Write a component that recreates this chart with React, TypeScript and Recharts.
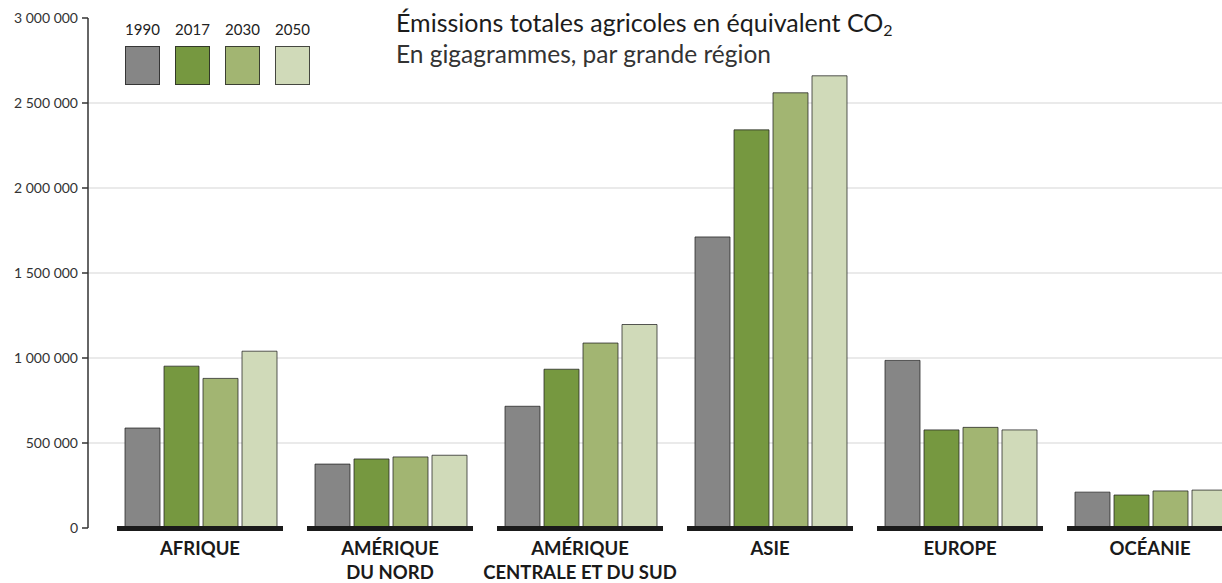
import React from "react";
import {
  BarChart,
  Bar,
  XAxis,
  YAxis,
  CartesianGrid,
} from "recharts";

const regions = [
  "AFRIQUE",
  "AMÉRIQUE\nDU NORD",
  "AMÉRIQUE\nCENTRALE ET DU SUD",
  "ASIE",
  "EUROPE",
  "OCÉANIE",
];
const years = ["1990", "2017", "2030", "2050"];
const v1990 = [588000, 376000, 716000, 1712000, 986000, 211000];
const v2017 = [952000, 406000, 934000, 2342000, 577000, 194000];
const v2030 = [880000, 418000, 1088000, 2560000, 592000, 218000];
const v2050 = [1040000, 428000, 1197000, 2660000, 577000, 223000];
const yTicks = [0, 500000, 1000000, 1500000, 2000000, 2500000, 3000000];
const gridValues = [500000, 1000000, 1500000, 2000000, 2500000];

const colors = ["#868686", "#769840", "#a2b572", "#d0dab9"];

const data = regions.map((r, i) => ({
  region: r,
  y1990: v1990[i],
  y2017: v2017[i],
  y2030: v2030[i],
  y2050: v2050[i],
}));

const FONT = "Lato, 'Noto Sans', sans-serif";

const fmt = (v: number) =>
  String(v).replace(/\B(?=(\d{3})+(?!\d))/g, " ");

function RegionTick(props: any) {
  const { x, y, payload } = props;
  const lines = String(payload.value).split("\n");
  return (
    <g>
      <rect x={x - 83} y={y - 2} width={166} height={5} fill="#1a1a1a" />
      {lines.map((l, i) => (
        <text
          key={i}
          x={x}
          y={y + 27 + i * 24}
          textAnchor="middle"
          fontFamily={FONT}
          fontWeight={700}
          fontSize={18.5}
          fill="#1a1a1a"
        >
          {l}
        </text>
      ))}
    </g>
  );
}

export default function App() {
  return (
    <div
      style={{
        position: "absolute",
        left: 0,
        top: 0,
        width: 1222,
        height: 583,
        overflow: "hidden",
        background: "#fff",
        fontFamily: FONT,
      }}
    >
      <BarChart
        width={1245}
        height={583}
        data={data}
        margin={{ top: 18, right: 0, bottom: 0, left: 0 }}
        barCategoryGap={20}
        barGap={4}
      >
        {years.map((yr, i) => (
          <Bar
            key={yr}
            dataKey={"y" + yr}
            fill={colors[i]}
            stroke="#222"
            strokeOpacity={0.75}
            strokeWidth={1}
            isAnimationActive={false}
          />
        ))}
        <CartesianGrid
          vertical={false}
          horizontalValues={gridValues}
          stroke="#000"
          strokeOpacity={0.17}
        />
        <XAxis
          dataKey="region"
          height={55}
          axisLine={false}
          tickLine={false}
          tickSize={0}
          tickMargin={0}
          interval={0}
          padding={{ left: 17, right: 0 }}
          tick={<RegionTick />}
        />
        <YAxis
          width={88}
          domain={[0, 3000000]}
          ticks={yTicks}
          tickFormatter={fmt}
          tickSize={6}
          tickMargin={4}
          axisLine={{ stroke: "#333", strokeWidth: 1.5 }}
          tickLine={{ stroke: "#333", strokeWidth: 1.5 }}
          tick={{ fill: "#333", fontSize: 14, fontFamily: FONT }}
        />
      </BarChart>

      <div
        style={{
          position: "absolute",
          left: 396,
          top: 7,
          fontSize: 25,
          lineHeight: "30px",
          color: "#1c1c1c",
          whiteSpace: "nowrap",
        }}
      >
        Émissions totales agricoles en équivalent CO
        <sub style={{ fontSize: 16, verticalAlign: "-4px" }}>2</sub>
      </div>
      <div
        style={{
          position: "absolute",
          left: 396,
          top: 39,
          fontSize: 24.5,
          lineHeight: "30px",
          color: "#333",
          whiteSpace: "nowrap",
        }}
      >
        En gigagrammes, par grande région
      </div>

      {years.map((yr, i) => (
        <div key={yr}>
          <div
            style={{
              position: "absolute",
              left: 120 + i * 50,
              top: 20,
              width: 45,
              textAlign: "center",
              fontSize: 15,
              color: "#222",
            }}
          >
            {yr}
          </div>
          <div
            style={{
              position: "absolute",
              left: 125 + i * 50,
              top: 46,
              width: 33,
              height: 37,
              background: colors[i],
              border: "1px solid rgba(34,34,34,0.8)",
            }}
          />
        </div>
      ))}
    </div>
  );
}
